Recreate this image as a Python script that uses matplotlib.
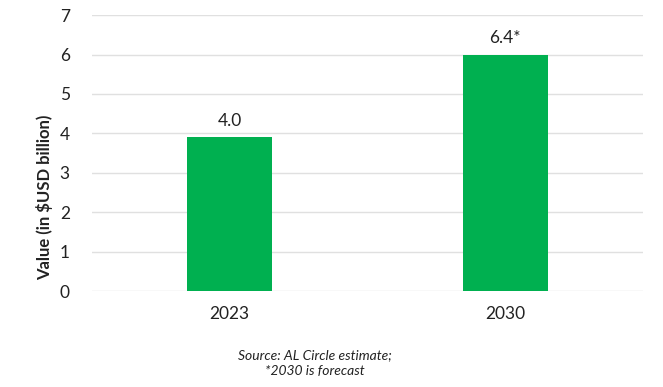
import matplotlib
matplotlib.use("Agg")
import matplotlib.pyplot as plt

years = ["2023", "2030"]
values = [3.9, 6.0]
bar_labels = ["4.0", "6.4*"]
yticks = [0, 1, 2, 3, 4, 5, 6, 7]

plt.rcParams["font.family"] = ["Lato", "DejaVu Sans"]

fig = plt.figure(figsize=(6.63, 3.87), dpi=100)
ax = fig.add_axes([0.1388, 0.248, 0.831, 0.713])

xs = list(range(len(years)))
ax.bar(xs, values, width=0.31, color="#00b050", zorder=3)
for x, v, lab in zip(xs, values, bar_labels):
    ax.text(x, v + 0.22, lab, ha="center", va="bottom", fontsize=12.5, color="#222222")

ax.set_xlim(-0.5, 1.5)
ax.set_ylim(0, 7)
ax.set_yticks(yticks)
ax.set_xticks(xs, years)
ax.yaxis.grid(True, color="#e0e0e0", linewidth=1.0, zorder=0)
ax.set_axisbelow(True)
for s in ax.spines.values():
    s.set_visible(False)
ax.tick_params(axis="both", length=0, labelsize=12.5, colors="#222222")
ax.tick_params(axis="y", pad=16)
ax.tick_params(axis="x", pad=11)
ax.set_ylabel("Value (in $USD billion)", fontsize=12, fontweight="bold", color="#222222")
ax.yaxis.set_label_coords(-0.07, 0.34)

fig.text(0.475, 0.062, "Source: AL Circle estimate;\n*2030 is forecast", ha="center", va="center",
         fontsize=10, style="italic", color="#222222", linespacing=1.35)

fig.savefig("out.png", dpi=100)
